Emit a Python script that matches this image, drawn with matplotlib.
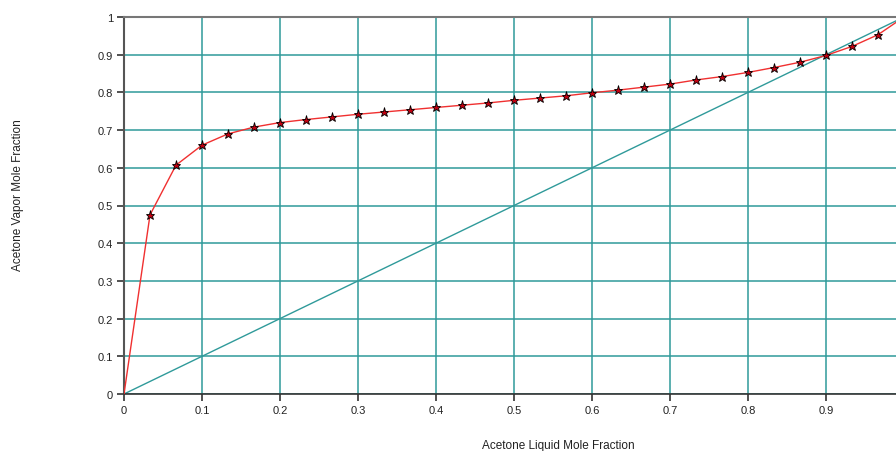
import matplotlib
matplotlib.use("Agg")
import matplotlib.pyplot as plt

plt.rcParams['font.family'] = ['Liberation Sans', 'DejaVu Sans']

# equilibrium data (liquid x, vapor y), x steps of 1/30
x_liq = [i / 30 for i in range(31)]
y_vap = [0.0, 0.475, 0.607, 0.660, 0.690, 0.708, 0.720, 0.728, 0.735, 0.742,
         0.748, 0.754, 0.760, 0.766, 0.772, 0.779, 0.785, 0.791, 0.799, 0.806,
         0.814, 0.822, 0.833, 0.842, 0.853, 0.866, 0.880, 0.898, 0.922, 0.953,
         1.0]
diag = [0.0, 1.0]

xticks = [0, 0.1, 0.2, 0.3, 0.4, 0.5, 0.6, 0.7, 0.8, 0.9]
xticklabels = ['0', '0.1', '0.2', '0.3', '0.4', '0.5', '0.6', '0.7', '0.8', '0.9']
yticks = [0, 0.1, 0.2, 0.3, 0.4, 0.5, 0.6, 0.7, 0.8, 0.9, 1]
yticklabels = ['0', '0.1', '0.2', '0.3', '0.4', '0.5', '0.6', '0.7', '0.8', '0.9', '1']

teal = '#2f9a9a'

fig = plt.figure(figsize=(8.96, 4.52), dpi=100)
ax = fig.add_axes([124 / 896, 57 / 452, 780 / 896, 377 / 452])

ax.plot(diag, diag, color=teal, lw=1.0, zorder=2)
ax.plot(x_liq, y_vap, color='#f03030', lw=1.0, zorder=3)
# stars on the inner points only
ax.plot(x_liq[1:-1], y_vap[1:-1], ls='none', marker='*', ms=6.5,
        mfc='#c00010', mec='black', mew=0.6, zorder=4)

ax.set_xlim(0, 1)
ax.set_ylim(0, 1)
ax.set_xticks(xticks)
ax.set_xticklabels(xticklabels)
ax.set_yticks(yticks)
ax.set_yticklabels(yticklabels)
ax.grid(True, color=teal, lw=1.1)
ax.set_axisbelow(True)
ax.tick_params(direction='out', length=5, width=1.2, labelsize=8, colors='#333333',
               labelcolor='#222222', pad=3)

ax.spines['right'].set_visible(False)
ax.spines['top'].set_color('#777777')
ax.spines['top'].set_linewidth(1.5)
ax.spines['left'].set_color('#555555')
ax.spines['left'].set_linewidth(1.5)
ax.spines['bottom'].set_color('#333333')
ax.spines['bottom'].set_linewidth(1.2)

fig.text(18 / 896, 1 - 195 / 452, 'Acetone Vapor Mole Fraction', rotation=90,
         ha='center', va='center', fontsize=8.5, color='#222222')
fig.text(558 / 896, 1 - 446 / 452, 'Acetone Liquid Mole Fraction',
         ha='center', va='center', fontsize=8.5, color='#222222')

fig.savefig('out.png', dpi=100)
